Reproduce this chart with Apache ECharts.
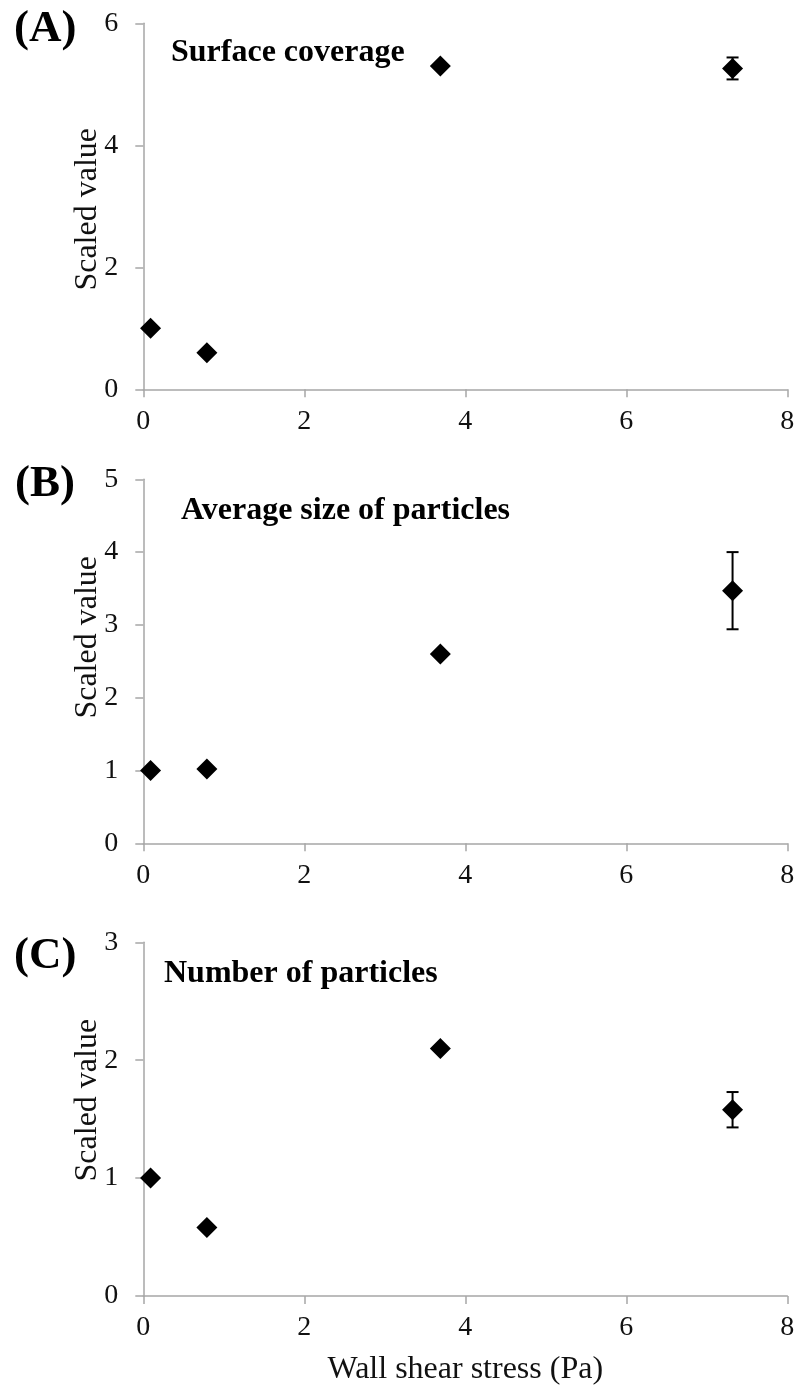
<!DOCTYPE html>
<html>
<head>
<meta charset="utf-8">
<script src="https://cdn.jsdelivr.net/npm/echarts@6/dist/echarts.min.js"></script>
<style>
html,body{margin:0;padding:0;background:#fff;}
#chart{width:799px;height:1387px;}
</style>
</head>
<body>
<div id="chart"></div>
<script>
// Data
const shearStress = [0.09, 0.79, 3.69, 7.32];
const coverageValues = [1.0, 0.60, 5.30, 5.26];
const coverageErrors = [0, 0, 0, 0.18];
const sizeValues = [1.0, 1.02, 2.60, 3.47];
const sizeErrors = [0, 0, 0, 0.53];
const numberValues = [1.0, 0.58, 2.10, 1.58];
const numberErrors = [0, 0, 0, 0.15];
const panelLabels = ['(A)', '(B)', '(C)'];
const panelTitles = ['Surface coverage', 'Average size of particles', 'Number of particles'];
const yMaxes = [6, 5, 3];
const yIntervals = [2, 1, 1];
const xTicks = [0, 2, 4, 6, 8];
const yAxisName = 'Scaled value';
const xAxisName = 'Wall shear stress (Pa)';

const serif = '"Liberation Serif", "DejaVu Serif", serif';
const axisGray = '#a6a6a6';

const grids = [
  {left: 143.3, right: 11.7, top: 23.3, bottom: 997.7},
  {left: 143.3, right: 11.7, top: 479.3, bottom: 543.7},
  {left: 143.3, right: 11.7, top: 942.3, bottom: 88.3}
];
// padding used to shift the y-axis name along the axis (layout only)
const yNamePadding = [[0, 6, 0, 0], [0, 0, 0, 48], [0, 0, 0, 38]];

const allValues = [coverageValues, sizeValues, numberValues];
const allErrors = [coverageErrors, sizeErrors, numberErrors];

const xAxes = grids.map((g, i) => ({
  type: 'value', gridIndex: i, min: xTicks[0], max: xTicks[xTicks.length - 1], interval: 2,
  axisLine: {show: true, onZero: false, lineStyle: {color: axisGray, width: 1.5}},
  axisTick: {show: true, length: 8, lineStyle: {color: axisGray, width: 1.5}},
  splitLine: {show: false},
  axisLabel: {color: '#111', fontFamily: serif, fontSize: 28, margin: 18},
  name: i === 2 ? xAxisName : '',
  nameLocation: 'middle', nameGap: 58, nameMoveOverlap: false,
  nameTextStyle: {color: '#111', fontFamily: serif, fontSize: 32}
}));

const yAxes = grids.map((g, i) => ({
  type: 'value', gridIndex: i, min: 0, max: yMaxes[i], interval: yIntervals[i],
  axisLine: {show: true, lineStyle: {color: axisGray, width: 1.5}},
  axisTick: {show: true, length: 8, lineStyle: {color: axisGray, width: 1.5}},
  splitLine: {show: false},
  axisLabel: {color: '#111', fontFamily: serif, fontSize: 28, margin: 25},
  name: yAxisName, nameLocation: 'middle', nameGap: 40, nameRotate: 90, nameMoveOverlap: false,
  nameTextStyle: {color: '#111', fontFamily: serif, fontSize: 32, padding: yNamePadding[i]}
}));

const series = [];
allValues.forEach((vals, i) => {
  const errs = allErrors[i];
  series.push({
    type: 'custom', xAxisIndex: i, yAxisIndex: i, z: 1,
    data: shearStress.map((x, k) => [x, vals[k] - errs[k], vals[k] + errs[k]]).filter((d, k) => errs[k] > 0),
    renderItem: function (params, api) {
      const x = api.value(0);
      const lo = api.coord([x, api.value(1)]);
      const hi = api.coord([x, api.value(2)]);
      const cap = 6;
      const style = {stroke: '#000', lineWidth: 2};
      return {
        type: 'group',
        children: [
          {type: 'line', shape: {x1: lo[0], y1: lo[1], x2: hi[0], y2: hi[1]}, style: style},
          {type: 'line', shape: {x1: lo[0] - cap, y1: lo[1], x2: lo[0] + cap, y2: lo[1]}, style: style},
          {type: 'line', shape: {x1: hi[0] - cap, y1: hi[1], x2: hi[0] + cap, y2: hi[1]}, style: style}
        ]
      };
    }
  });
  series.push({
    type: 'scatter', xAxisIndex: i, yAxisIndex: i, z: 2,
    symbol: 'diamond', symbolSize: [21, 21],
    itemStyle: {color: '#000', opacity: 1},
    data: shearStress.map((x, k) => [x, vals[k]])
  });
});

const titlePos = [
  {x: 171, y: 53},
  {x: 181, y: 511},
  {x: 164, y: 974}
];
const labelPos = [
  {x: 14, y: 29},
  {x: 15, y: 484},
  {x: 14, y: 956}
];

const graphics = [];
panelLabels.forEach((t, i) => {
  graphics.push({type: 'text', x: labelPos[i].x, y: labelPos[i].y,
    style: {text: t, font: 'bold 45px ' + serif, fill: '#000', textAlign: 'left', textVerticalAlign: 'middle'}});
  graphics.push({type: 'text', x: titlePos[i].x, y: titlePos[i].y,
    style: {text: panelTitles[i], font: 'bold 32px ' + serif, fill: '#000', textAlign: 'left', textVerticalAlign: 'middle'}});
});

const chart = echarts.init(document.getElementById('chart'), null, {renderer: 'canvas'});
chart.setOption({
  animation: false,
  backgroundColor: '#fff',
  grid: grids,
  xAxis: xAxes,
  yAxis: yAxes,
  series: series,
  graphic: graphics
});
</script>
</body>
</html>
